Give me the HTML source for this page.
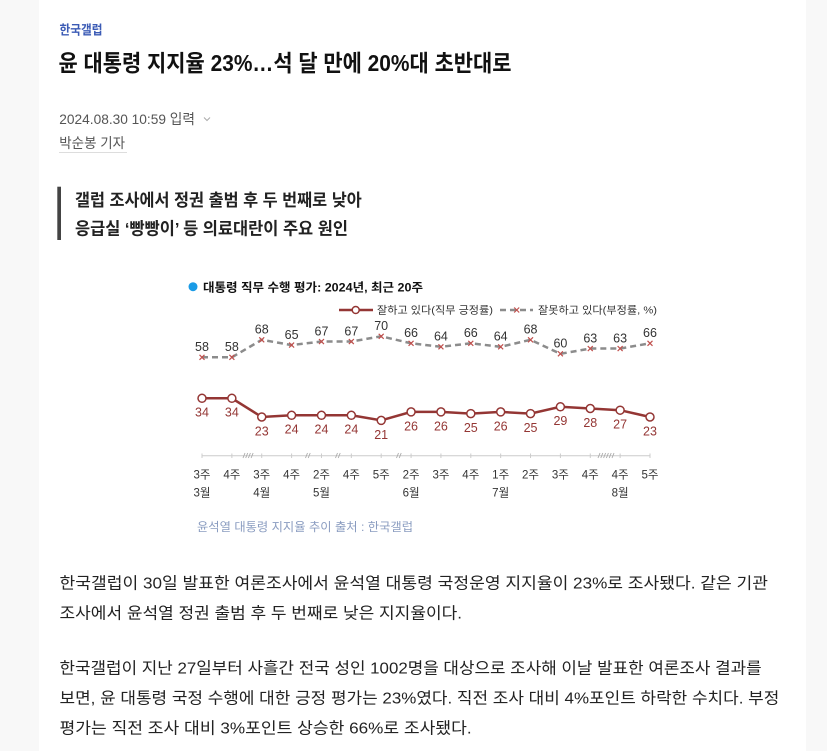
<!DOCTYPE html>
<html><head><meta charset="utf-8"><style>
html,body{margin:0;padding:0;background:#f8f8f8;}
svg{display:block;}
text{font-family:"Liberation Sans","Noto Sans CJK KR",sans-serif;}
</style></head><body>
<svg width="827" height="751" viewBox="0 0 827 751" xmlns="http://www.w3.org/2000/svg">
<rect x="0" y="0" width="827" height="751" fill="#f8f8f8"/>
<rect x="39" y="0" width="767" height="751" fill="#ffffff"/>

<text x="59.5" y="34.5" font-size="13" font-weight="bold" fill="#3b5bb5" textLength="43" lengthAdjust="spacingAndGlyphs">한국갤럽</text>
<text x="58.5" y="71" font-size="23" font-weight="bold" fill="#111" textLength="453" lengthAdjust="spacingAndGlyphs">윤 대통령 지지율 23%…석 달 만에 20%대 초반대로</text>

<text x="59.3" y="124.2" font-size="14" fill="#555" textLength="135.7" lengthAdjust="spacingAndGlyphs">2024.08.30 10:59 입력</text>
<polyline points="204,117.5 207,120.5 210,117.5" fill="none" stroke="#aaa" stroke-width="1"/>
<text x="59.3" y="148.2" font-size="14" fill="#555" textLength="65.7" lengthAdjust="spacingAndGlyphs">박순봉 기자</text>
<line x1="59" y1="152.5" x2="127" y2="152.5" stroke="#ddd" stroke-width="1"/>

<rect x="57.3" y="186.7" width="3.7" height="53.3" fill="#444"/>
<text x="75" y="206" font-size="17" font-weight="bold" fill="#222" textLength="286.7" lengthAdjust="spacingAndGlyphs">갤럽 조사에서 정권 출범 후 두 번째로 낮아</text>
<text x="75" y="234.3" font-size="17" font-weight="bold" fill="#222" textLength="273" lengthAdjust="spacingAndGlyphs">응급실 ‘빵빵이’ 등 의료대란이 주요 원인</text>

<!-- chart -->
<circle cx="193" cy="286.7" r="4.5" fill="#1a9be6"/>
<text x="203" y="291.5" font-size="12" font-weight="bold" fill="#111" textLength="220" lengthAdjust="spacingAndGlyphs">대통령 직무 수행 평가: 2024년, 최근 20주</text>

<line x1="339" y1="310" x2="373" y2="310" stroke="#943634" stroke-width="2.5"/>
<circle cx="355.7" cy="310" r="3.5" fill="#fff" stroke="#943634" stroke-width="1.5"/>
<text x="377" y="313.7" font-size="10.5" fill="#333" textLength="116" lengthAdjust="spacingAndGlyphs">잘하고 있다(직무 긍정률)</text>
<line x1="500" y1="310" x2="533" y2="310" stroke="#8c8c8c" stroke-width="2.5" stroke-dasharray="6 4"/>
<g stroke="#c0504d" stroke-width="1.2"><line x1="514.2" y1="307.5" x2="519.2" y2="312.5"/><line x1="514.2" y1="312.5" x2="519.2" y2="307.5"/></g>
<text x="538" y="313.7" font-size="10.5" fill="#333" textLength="119" lengthAdjust="spacingAndGlyphs">잘못하고 있다(부정률, %)</text>

<!-- gray series -->
<polyline fill="none" stroke="#8c8c8c" stroke-width="2.5" stroke-dasharray="6 4" points="202,357.3 231.87,357.3 261.73,339.8 291.6,345.05 321.47,341.55 351.33,341.55 381.2,336.3 411.07,343.3 440.93,346.8 470.8,343.3 500.67,346.8 530.53,339.8 560.4,353.8 590.27,348.55 620.13,348.55 650,343.3"/>
<g stroke="#c0504d" stroke-width="1.2">
<path d="M199.5 354.8l5 5M199.5 359.8l5 -5"/>
<path d="M229.37 354.8l5 5M229.37 359.8l5 -5"/>
<path d="M259.23 337.3l5 5M259.23 342.3l5 -5"/>
<path d="M289.1 342.55l5 5M289.1 347.55l5 -5"/>
<path d="M318.97 339.05l5 5M318.97 344.05l5 -5"/>
<path d="M348.83 339.05l5 5M348.83 344.05l5 -5"/>
<path d="M378.7 333.8l5 5M378.7 338.8l5 -5"/>
<path d="M408.57 340.8l5 5M408.57 345.8l5 -5"/>
<path d="M438.43 344.3l5 5M438.43 349.3l5 -5"/>
<path d="M468.3 340.8l5 5M468.3 345.8l5 -5"/>
<path d="M498.17 344.3l5 5M498.17 349.3l5 -5"/>
<path d="M528.03 337.3l5 5M528.03 342.3l5 -5"/>
<path d="M557.9 351.3l5 5M557.9 356.3l5 -5"/>
<path d="M587.77 346.05l5 5M587.77 351.05l5 -5"/>
<path d="M617.63 346.05l5 5M617.63 351.05l5 -5"/>
<path d="M647.5 340.8l5 5M647.5 345.8l5 -5"/>
</g>
<g font-size="12.5" fill="#333" text-anchor="middle">
<text x="202" y="351.1">58</text>
<text x="231.87" y="351.1">58</text>
<text x="261.73" y="333.6">68</text>
<text x="291.6" y="338.85">65</text>
<text x="321.47" y="335.35">67</text>
<text x="351.33" y="335.35">67</text>
<text x="381.2" y="330.1">70</text>
<text x="411.07" y="337.1">66</text>
<text x="440.93" y="340.6">64</text>
<text x="470.8" y="337.1">66</text>
<text x="500.67" y="340.6">64</text>
<text x="530.53" y="333.6">68</text>
<text x="560.4" y="347.6">60</text>
<text x="590.27" y="342.35">63</text>
<text x="620.13" y="342.35">63</text>
<text x="650" y="337.1">66</text>
</g>

<!-- red series -->
<polyline fill="none" stroke="#943634" stroke-width="2.5" points="202,398.3 231.87,398.3 261.73,417 291.6,415.3 321.47,415.3 351.33,415.3 381.2,420.4 411.07,411.9 440.93,411.9 470.8,413.6 500.67,411.9 530.53,413.6 560.4,406.8 590.27,408.5 620.13,410.2 650,417"/>
<g fill="#fff" stroke="#943634" stroke-width="1.5">
<circle cx="202" cy="398.3" r="4"/>
<circle cx="231.87" cy="398.3" r="4"/>
<circle cx="261.73" cy="417" r="4"/>
<circle cx="291.6" cy="415.3" r="4"/>
<circle cx="321.47" cy="415.3" r="4"/>
<circle cx="351.33" cy="415.3" r="4"/>
<circle cx="381.2" cy="420.4" r="4"/>
<circle cx="411.07" cy="411.9" r="4"/>
<circle cx="440.93" cy="411.9" r="4"/>
<circle cx="470.8" cy="413.6" r="4"/>
<circle cx="500.67" cy="411.9" r="4"/>
<circle cx="530.53" cy="413.6" r="4"/>
<circle cx="560.4" cy="406.8" r="4"/>
<circle cx="590.27" cy="408.5" r="4"/>
<circle cx="620.13" cy="410.2" r="4"/>
<circle cx="650" cy="417" r="4"/>
</g>
<g font-size="12.5" fill="#943634" text-anchor="middle">
<text x="202" y="416.7">34</text>
<text x="231.87" y="416.7">34</text>
<text x="261.73" y="435.4">23</text>
<text x="291.6" y="433.7">24</text>
<text x="321.47" y="433.7">24</text>
<text x="351.33" y="433.7">24</text>
<text x="381.2" y="438.8">21</text>
<text x="411.07" y="430.3">26</text>
<text x="440.93" y="430.3">26</text>
<text x="470.8" y="432">25</text>
<text x="500.67" y="430.3">26</text>
<text x="530.53" y="432">25</text>
<text x="560.4" y="425.2">29</text>
<text x="590.27" y="426.9">28</text>
<text x="620.13" y="428.6">27</text>
<text x="650" y="435.4">23</text>
</g>

<!-- axis -->
<line x1="202" y1="455.7" x2="650" y2="455.7" stroke="#ccc" stroke-width="1"/>
<g stroke="#ccc" stroke-width="1">
<line x1="202" y1="453.5" x2="202" y2="458"/>
<line x1="231.87" y1="453.5" x2="231.87" y2="458"/>
<line x1="261.73" y1="453.5" x2="261.73" y2="458"/>
<line x1="291.6" y1="453.5" x2="291.6" y2="458"/>
<line x1="321.47" y1="453.5" x2="321.47" y2="458"/>
<line x1="351.33" y1="453.5" x2="351.33" y2="458"/>
<line x1="381.2" y1="453.5" x2="381.2" y2="458"/>
<line x1="411.07" y1="453.5" x2="411.07" y2="458"/>
<line x1="440.93" y1="453.5" x2="440.93" y2="458"/>
<line x1="470.8" y1="453.5" x2="470.8" y2="458"/>
<line x1="500.67" y1="453.5" x2="500.67" y2="458"/>
<line x1="530.53" y1="453.5" x2="530.53" y2="458"/>
<line x1="560.4" y1="453.5" x2="560.4" y2="458"/>
<line x1="590.27" y1="453.5" x2="590.27" y2="458"/>
<line x1="620.13" y1="453.5" x2="620.13" y2="458"/>
<line x1="650" y1="453.5" x2="650" y2="458"/>
</g>
<g stroke="#aaa" stroke-width="0.9">
<path d="M243 458l2 -5M245.7 458l2 -5M248.4 458l2 -5M251.1 458l2 -5"/>
<path d="M305.5 458l2 -5M308.2 458l2 -5"/>
<path d="M335.5 458l2 -5M338.2 458l2 -5"/>
<path d="M396.5 458l2 -5M399.2 458l2 -5"/>
<path d="M598 458l2 -5M600.8 458l2 -5M603.6 458l2 -5M606.4 458l2 -5M609.2 458l2 -5M612 458l2 -5"/>
</g>
<g font-size="11.5" fill="#333" text-anchor="middle">
<text x="202" y="478.3">3주</text>
<text x="231.87" y="478.3">4주</text>
<text x="261.73" y="478.3">3주</text>
<text x="291.6" y="478.3">4주</text>
<text x="321.47" y="478.3">2주</text>
<text x="351.33" y="478.3">4주</text>
<text x="381.2" y="478.3">5주</text>
<text x="411.07" y="478.3">2주</text>
<text x="440.93" y="478.3">3주</text>
<text x="470.8" y="478.3">4주</text>
<text x="500.67" y="478.3">1주</text>
<text x="530.53" y="478.3">2주</text>
<text x="560.4" y="478.3">3주</text>
<text x="590.27" y="478.3">4주</text>
<text x="620.13" y="478.3">4주</text>
<text x="650" y="478.3">5주</text>
<text x="202" y="496.3">3월</text>
<text x="261.73" y="496.3">4월</text>
<text x="321.47" y="496.3">5월</text>
<text x="411.07" y="496.3">6월</text>
<text x="500.67" y="496.3">7월</text>
<text x="620.13" y="496.3">8월</text>
</g>

<text x="197" y="531" font-size="12" fill="#8a9cc0" textLength="216" lengthAdjust="spacingAndGlyphs">윤석열 대통령 지지율 추이 출처 : 한국갤럽</text>

<!-- body -->
<g font-size="16" fill="#222">
<text x="59.5" y="588.6" textLength="708.5" lengthAdjust="spacingAndGlyphs">한국갤럽이 30일 발표한 여론조사에서 윤석열 대통령 국정운영 지지율이 23%로 조사됐다. 같은 기관</text>
<text x="59.5" y="618.6" textLength="402.5" lengthAdjust="spacingAndGlyphs">조사에서 윤석열 정권 출범 후 두 번째로 낮은 지지율이다.</text>
<text x="59.5" y="673.6" textLength="702.2" lengthAdjust="spacingAndGlyphs">한국갤럽이 지난 27일부터 사흘간 전국 성인 1002명을 대상으로 조사해 이날 발표한 여론조사 결과를</text>
<text x="59.5" y="703.6" textLength="719.8" lengthAdjust="spacingAndGlyphs">보면, 윤 대통령 국정 수행에 대한 긍정 평가는 23%였다. 직전 조사 대비 4%포인트 하락한 수치다. 부정</text>
<text x="59.5" y="733.6" textLength="412.2" lengthAdjust="spacingAndGlyphs">평가는 직전 조사 대비 3%포인트 상승한 66%로 조사됐다.</text>
</g>
</svg>
</body></html>
